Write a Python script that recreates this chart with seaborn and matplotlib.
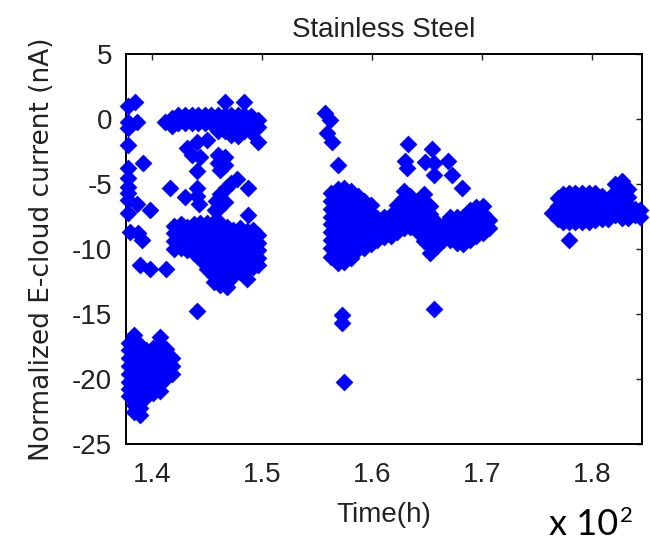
import matplotlib
matplotlib.use("Agg")
import matplotlib.pyplot as plt
import pandas as pd
import seaborn as sns

# ---------------- data (time in units of 100 h, current in nA) ----------------
# scattered points near the left edge
left_x = [1.378, 1.385, 1.378, 1.386, 1.378, 1.378, 1.378, 1.378, 1.378, 1.378, 1.378,
          1.378, 1.380, 1.392, 1.386, 1.398, 1.387, 1.391, 1.389, 1.398, 1.413]
left_y = [1.0, 1.3, -0.2, -0.2, -0.7, -2.0, -3.8, -4.5, -5.2, -5.7, -6.2,
          -7.2, -8.7, -3.4, -6.5, -7.0, -8.8, -9.3, -11.2, -11.5, -11.5]

# dense block around -20 nA (columns)
lowA_cols = [1.379, 1.384, 1.389, 1.395, 1.401, 1.407, 1.413, 1.418]
lowA_vals = [
    [-17.2, -17.8, -18.4, -19.0, -19.6, -20.2, -20.8, -21.3],
    [-16.6, -17.2, -17.8, -18.4, -19.0, -19.6, -20.2, -20.8, -21.4, -22.0, -22.5],
    [-17.4, -18.0, -18.6, -19.2, -19.8, -20.4, -21.0, -21.6, -22.2, -22.8],
    [-17.8, -18.4, -19.0, -19.6, -20.2, -20.8, -21.4],
    [-17.6, -18.2, -18.8, -19.4, -20.0, -20.6, -21.1],
    [-16.8, -17.4, -18.0, -18.6, -19.2, -19.8, -20.4, -20.9],
    [-17.7, -18.3, -18.9, -19.5, -19.9],
    [-18.4, -19.0, -19.6],
]

# band near 0 nA (columns)
band_cols = [1.412, 1.418, 1.424, 1.430, 1.436, 1.442, 1.448, 1.454, 1.460,
             1.466, 1.472, 1.478, 1.484, 1.490, 1.496]
band_vals = [
    [-0.2],
    [0.1, -0.5],
    [0.3, -0.3],
    [0.3, -0.3],
    [0.3, -0.3],
    [0.3, -0.3],
    [0.3, -0.3],
    [0.3, -0.3],
    [0.3, -0.3, -0.9],
    [1.3, 0.3, -0.3, -0.9],
    [0.3, -0.3, -0.9, -1.2],
    [0.3, -0.3, -0.9, -1.3],
    [1.3, 0.3, -0.3, -0.9],
    [0.2, -0.4, -1.0],
    [-0.1, -0.6, -1.8],
]

# scattered points between the band and the lower block
midsc_x = [1.432, 1.441, 1.450, 1.436, 1.444, 1.460, 1.466, 1.460, 1.466, 1.462,
           1.441, 1.416, 1.430, 1.441, 1.441, 1.443, 1.458, 1.462, 1.467, 1.472,
           1.477, 1.460, 1.466, 1.487, 1.457, 1.487, 1.441]
midsc_y = [-2.2, -1.8, -1.6, -2.8, -2.9, -2.8, -2.9, -3.4, -3.5, -3.9,
           -4.0, -5.3, -6.0, -5.3, -5.9, -6.5, -6.3, -5.8, -5.3, -4.9,
           -4.6, -6.9, -6.4, -5.3, -7.0, -7.4, -14.8]

# block around -10 nA, 1.42-1.50 (columns)
mid_cols = [1.420, 1.426, 1.432, 1.438, 1.444, 1.450, 1.456, 1.462, 1.468,
            1.474, 1.480, 1.486, 1.492, 1.496]
mid_vals = [
    [-8.2, -8.8, -9.4, -10.0],
    [-8.1, -8.7, -9.3, -9.9],
    [-8.3, -8.9, -9.5, -10.1],
    [-8.1, -8.7, -9.3, -9.9, -10.3],
    [-8.0, -8.6, -9.2, -9.8, -10.4, -10.8],
    [-8.0, -8.6, -9.2, -9.8, -10.4, -11.0, -11.5],
    [-7.9, -8.5, -9.1, -9.7, -10.3, -10.9, -11.5, -12.1, -12.5],
    [-8.0, -8.6, -9.2, -9.8, -10.4, -11.0, -11.6, -12.2, -12.8],
    [-8.3, -8.9, -9.5, -10.1, -10.7, -11.3, -11.9, -12.5, -12.9],
    [-8.5, -9.1, -9.7, -10.3, -10.9, -11.5, -12.1],
    [-8.4, -9.0, -9.6, -10.2, -10.8, -11.4, -11.8],
    [-8.6, -9.2, -9.8, -10.4, -11.0, -11.6, -12.3],
    [-8.5, -9.1, -9.7, -10.3, -10.9, -11.4],
    [-8.9, -9.5, -10.1, -10.7, -11.2],
]

# second run, 1.56-1.71 (columns)
run2_cols = [1.563, 1.569, 1.575, 1.581, 1.587, 1.593, 1.599, 1.605, 1.611, 1.617,
             1.623, 1.629, 1.635, 1.641, 1.647, 1.653, 1.659, 1.665, 1.671, 1.677,
             1.683, 1.689, 1.695, 1.701, 1.706]
run2_vals = [
    [-5.7, -6.3, -6.9, -7.5, -8.1, -8.7, -9.3, -9.9, -10.6],
    [-5.4, -6.0, -6.6, -7.2, -7.8, -8.4, -9.0, -9.6, -10.2, -10.7, -11.1],
    [-5.3, -5.9, -6.5, -7.1, -7.7, -8.3, -8.9, -9.5, -10.1, -10.6, -11.0],
    [-5.5, -6.1, -6.7, -7.3, -7.9, -8.5, -9.1, -9.7, -10.3, -10.7],
    [-5.9, -6.5, -7.1, -7.7, -8.3, -8.9, -9.5, -10.0],
    [-6.3, -6.9, -7.5, -8.1, -8.7, -9.3, -9.9],
    [-6.6, -7.2, -7.8, -8.4, -9.0, -9.6],
    [-7.6, -8.2, -8.8, -9.3],
    [-7.5, -8.1, -8.7, -9.1],
    [-7.4, -8.0, -8.6, -9.0],
    [-6.6, -7.2, -7.8, -8.4, -8.7],
    [-5.5, -6.1, -6.7, -7.3, -7.9, -8.4],
    [-5.9, -6.5, -7.1, -7.7, -8.3],
    [-6.5, -7.1, -7.7, -8.3, -8.6],
    [-5.8, -6.4, -7.0, -7.6, -8.2, -8.8, -9.4],
    [-6.7, -7.3, -7.9, -8.5, -9.1, -9.7, -10.3],
    [-8.0, -8.6, -9.2, -9.8],
    [-8.2, -8.8, -9.3],
    [-7.5, -8.1, -8.7, -9.3],
    [-7.5, -8.1, -8.7, -9.3, -9.5],
    [-7.5, -8.1, -8.7, -9.3, -9.6],
    [-7.0, -7.6, -8.2, -8.8, -9.3],
    [-6.8, -7.4, -8.0, -8.6, -9.0],
    [-6.7, -7.3, -7.9, -8.5, -8.8],
    [-7.8, -8.4],
]

# scattered points of the second run
run2sc_x = [1.557, 1.562, 1.559, 1.564, 1.569, 1.633, 1.630, 1.632, 1.655, 1.648,
            1.656, 1.656, 1.669, 1.673, 1.682, 1.573, 1.573, 1.575, 1.656]
run2sc_y = [0.5, -0.1, -1.1, -1.8, -3.5, -1.9, -3.2, -3.8, -2.3, -3.3,
            -3.4, -4.3, -3.2, -4.3, -5.3, -15.1, -15.7, -20.2, -14.6]

# third run, 1.76-1.85 (columns)
run3_cols = [1.764, 1.769, 1.774, 1.779, 1.785, 1.791, 1.797, 1.803, 1.809, 1.815,
             1.821, 1.827, 1.833, 1.839, 1.844]
run3_vals = [
    [-7.2],
    [-6.1, -6.7, -7.3, -7.7],
    [-5.8, -6.4, -7.0, -7.6, -7.9],
    [-5.7, -6.3, -6.9, -7.5, -7.9, -9.3],
    [-5.7, -6.3, -6.9, -7.5, -7.9],
    [-5.7, -6.3, -6.9, -7.5, -7.9],
    [-5.7, -6.3, -6.9, -7.5, -7.9],
    [-5.7, -6.3, -6.9, -7.5, -7.8],
    [-5.9, -6.5, -7.1, -7.7],
    [-6.2, -6.8, -7.4, -7.7],
    [-5.0, -5.6, -6.2, -6.8, -7.4],
    [-4.8, -5.4, -6.0, -6.6, -7.2, -7.6],
    [-5.4, -6.0, -6.6, -7.2, -7.6],
    [-6.9, -7.4],
    [-7.0, -7.5],
]

x_ticks = [1.4, 1.5, 1.6, 1.7, 1.8]
y_ticks = [-25, -20, -15, -10, -5, 0, 5]

# ---------------- assemble ----------------
xs, ys = list(left_x) + list(midsc_x) + list(run2sc_x), list(left_y) + list(midsc_y) + list(run2sc_y)
for cols, vals in [(lowA_cols, lowA_vals), (band_cols, band_vals), (mid_cols, mid_vals),
                   (run2_cols, run2_vals), (run3_cols, run3_vals)]:
    for c, v in zip(cols, vals):
        xs += [c] * len(v)
        ys += v
df = pd.DataFrame({"time": xs, "current": ys})

sns.set_style("white")
plt.rcParams["font.family"] = ["Liberation Sans", "DejaVu Sans"]
plt.rcParams["axes.unicode_minus"] = False

fig = plt.figure(figsize=(6.5, 5.42), dpi=100)
ax = fig.add_axes([126 / 650, 1 - 444 / 542, (642 - 126) / 650, (444 - 54) / 542])

sns.scatterplot(data=df, x="time", y="current", marker="D", s=78,
                color="#0000ff", edgecolor="#0000e6", linewidth=0.2,
                ax=ax, legend=False, clip_on=False, zorder=3)

ax.set_xlim(1.3764, 1.8455)
ax.set_ylim(-25, 5)
ax.set_xticks(x_ticks)
ax.set_xticklabels([f"{t:.1f}" for t in x_ticks])
ax.set_yticks(y_ticks)
ax.set_yticklabels([str(t) for t in y_ticks])

for s in ax.spines.values():
    s.set_visible(True)
    s.set_color("black")
    s.set_linewidth(1.4)
ax.tick_params(direction="in", length=4, width=1.0, top=True, right=True,
               labelsize=20, colors="#222222")
ax.tick_params(axis="x", pad=13)
ax.tick_params(axis="y", pad=10)

ax.set_title("Stainless Steel", fontsize=20, pad=12, color="#222222")
ax.set_xlabel("Time(h)", fontsize=20, labelpad=10, color="#222222")
ax.set_ylabel("Normalized E-cloud current (nA)", fontsize=19, labelpad=12,
              color="#222222", family=["DejaVu Sans"])

fig.text(549 / 650, 1 / 542, "x 10", fontsize=26, family=["Lato", "DejaVu Sans"],
         ha="left", va="bottom", color="black")
fig.text(620 / 650, 20 / 542, "2", fontsize=16, family=["Lato", "DejaVu Sans"],
         ha="left", va="baseline", color="black")

fig.savefig("out.png", dpi=100, facecolor="white")
